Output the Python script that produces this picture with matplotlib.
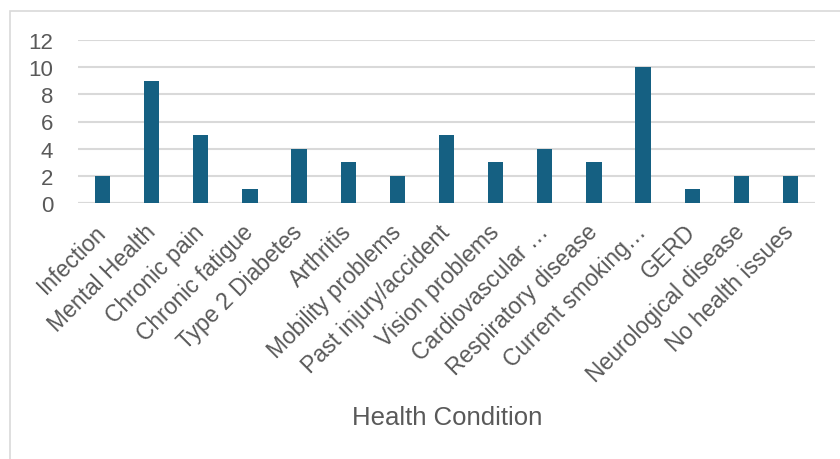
import matplotlib.pyplot as plt
import numpy as np
from matplotlib.patches import Rectangle

conditions = ["Infection", "Mental Health", "Chronic pain", "Chronic fatigue",
              "Type 2 Diabetes", "Arthritis", "Mobility problems",
              "Past injury/accident", "Vision problems", "Cardiovascular …",
              "Respiratory disease", "Current smoking…", "GERD",
              "Neurological disease", "No health issues"]
counts = [2, 9, 5, 1, 4, 3, 2, 5, 3, 4, 3, 10, 1, 2, 2]
yticks = [0, 2, 4, 6, 8, 10, 12]

plt.rcParams['font.family'] = ['Liberation Sans', 'DejaVu Sans']

fig = plt.figure(figsize=(8.4, 4.6), dpi=100)
# chart frame
fig.patches.append(Rectangle((10 / 840, -0.1), 1.0, 1 - 12 / 460 + 0.1,
                             transform=fig.transFigure, fill=False,
                             edgecolor='#d9d9d9', linewidth=1.2))

ax = fig.add_axes([78 / 840, 1 - 204 / 460, (815 - 78) / 840, (204 - 41) / 460])
x = np.arange(len(conditions))
ax.bar(x, counts, width=0.31, color='#156082', zorder=3)

ax.set_xlim(-0.5, len(conditions) - 0.5)
ax.set_ylim(0, 12)
ax.set_yticks(yticks)
ax.yaxis.grid(True, color='#d9d9d9', linewidth=1.5, zorder=0)
for s in ax.spines.values():
    s.set_visible(False)
ax.axhline(0, color='#d9d9d9', linewidth=1.5, zorder=2)
ax.tick_params(axis='both', length=0, labelcolor='#595959')
ax.tick_params(axis='y', pad=18, labelsize=16)

ax.set_xticks(x)
ax.set_xticklabels(conditions, rotation=45, ha='right', va='center',
                   rotation_mode='anchor')
ax.tick_params(axis='x', pad=18, labelsize=16.5)

fig.text(447 / 840, 1 - 418 / 460, "Health Condition", ha='center', va='center',
         fontsize=18.5, color='#595959')

fig.savefig("out.png", dpi=100)
